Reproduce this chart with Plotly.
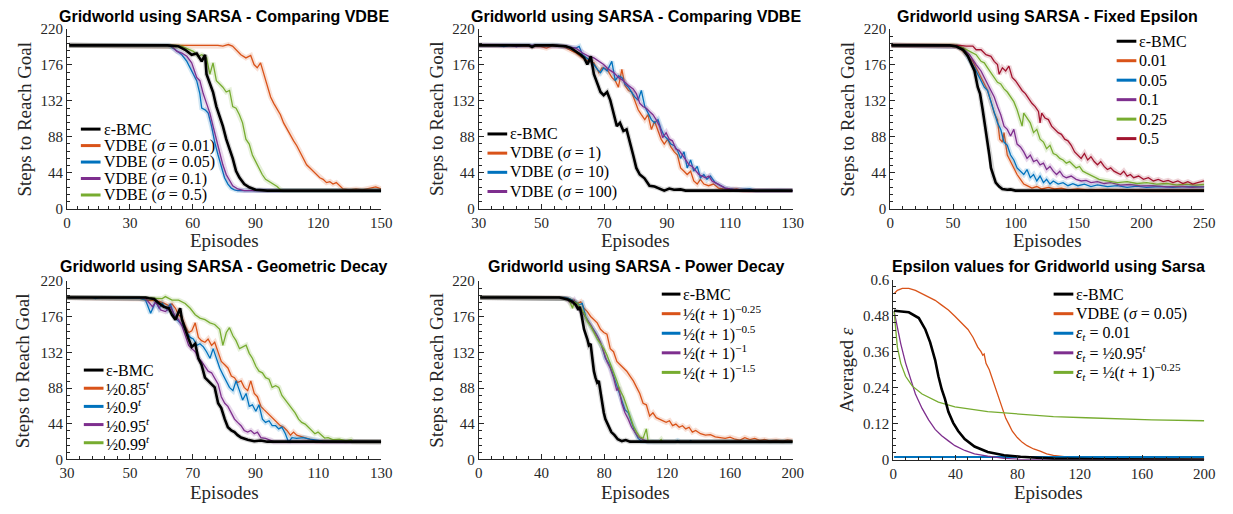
import plotly.graph_objects as go

# ---------------- DATA ----------------
# Panel 1: Comparing VDBE (episodes 0-150)
p1_bmc = [(1,200),(48,200),(53,199),(56.4,194.5),(59.5,188.5),(61.9,190),(64.3,180.4),(65.9,188.5),(66.6,164.6),(68.2,152.7),(69.7,142.8),(71.3,125),(72.9,113),(74.4,101),(76,85),(77.6,73),(79.1,61.5),(80.7,46),(82.3,38),(84.6,30),(87,26),(90,23),(95.6,22),(150,22)]
p1_s001 = [(1,200),(72,200),(74.4,199),(77,201),(79,199),(80.7,194.6),(83,188.5),(85.4,184.6),(87.7,187.6),(89.3,176.5),(90.8,172.5),(92.4,178.5),(94,164.6),(95.6,148.7),(97.2,136.8),(98.7,128.9),(100.3,121),(101.9,115),(103.4,105),(105,97),(106.6,89),(108.2,83),(109.7,77),(111.3,69.4),(112.9,61.5),(114.4,53.6),(116,49.6),(117.6,45.7),(119.2,41.7),(120.7,37.8),(122.3,35.8),(123.9,31.8),(125.5,33),(127,30),(128.6,31.8),(130.2,28),(131.8,24),(134.9,23),(138,24),(141,23),(144.3,25),(147.4,26.5),(150,24)]
p1_s005 = [(1,200),(48.6,200),(51.7,194.6),(54.8,188.5),(57.2,180.4),(59.5,168.6),(61.9,156.7),(63.4,140.9),(64.3,123),(65.9,121),(67.4,117),(69,101),(70.5,81.5),(72.1,65.6),(73.7,49.8),(75.2,37.8),(76.8,30),(78.4,25),(79.9,23),(81.5,22),(150,22)]
p1_s01 = [(1,200),(47.8,200),(50.1,198.6),(52.5,192.6),(54.8,190.6),(57.2,186.6),(59.5,178.6),(61.9,160.7),(63.4,156.7),(65,140.9),(66.6,128.9),(68.2,117),(69.7,101),(71.3,85),(72.9,69.4),(74.4,53.6),(76,41.7),(77.6,33.8),(79.1,28),(81.5,24),(84.6,22),(150,22)]
p1_s05 = [(1,200),(51.7,200),(54.8,198.6),(58,194.6),(60.3,192.6),(62.7,186.6),(64.3,188.5),(66.6,184.6),(68.2,164.6),(69.7,178.6),(71.3,156.7),(72.9,152.7),(74.4,148.7),(76,142.8),(77.6,144.7),(79.1,125),(80.7,123),(82.3,115),(83.8,105),(85.4,85),(87,79),(88.5,65.6),(90.1,57.6),(91.7,49.8),(93.2,41.7),(94.8,35.8),(96.4,33),(98.7,30),(100.3,27),(101.9,23),(103.4,22),(150,22)]

# Panel 2: Comparing VDBE (episodes 30-130)
p2_bmc = [(30,200),(46,200),(47,198),(48,200),(53.6,200),(57.8,199),(59.4,196.6),(61,192.6),(62.5,188.5),(63.6,184.6),(64.6,176.5),(65.1,180.4),(65.7,186.6),(66.7,164.6),(67.8,152.7),(68.8,142.8),(69.8,139),(70.9,142.8),(71.9,133),(73,117),(74,101),(75,105),(76.1,95),(77.1,97),(78.2,81.5),(79.2,65.6),(80.2,49.8),(81.3,41.7),(82.8,37),(84.4,28),(86,27),(87.5,25),(89.1,22),(90.7,24.5),(92.2,23),(94.3,23.5),(95.9,22),(130,22)]
p2_s1 = [(30,200),(40,200),(44,199),(49.5,198.6),(51.6,196.6),(53.6,199.5),(56.8,198.6),(58.9,194.6),(61,190.6),(63.1,184.6),(65.1,180.4),(66.7,178.6),(68.3,166.6),(69.3,172.5),(70.9,170.5),(72.4,160.7),(73.5,156.7),(74.5,148.7),(75.6,170.5),(76.6,150.7),(77.7,144.7),(78.7,142.8),(79.7,133),(80.8,121),(81.8,115),(82.9,109),(83.9,115),(85,97),(86,107),(87.1,95),(88.1,85),(89.1,79),(90.2,85),(91.2,75.5),(92.3,69.4),(93.3,65.6),(94.3,49.8),(95.4,45.8),(96.4,41.7),(97.5,45.8),(98.5,33.8),(99.6,30),(100.6,35.8),(101.7,30),(103.2,28),(104.8,30),(106.4,25),(108,24),(110,23),(112.1,24),(114.2,22),(130,22)]
p2_s10 = [(30,200),(36,200),(38,198.5),(40,200),(42,198.5),(44,200),(55,200),(58,198),(61,196.6),(62,198.6),(63.1,188.5),(65.1,182.5),(66.7,176.5),(67.8,170.5),(68.8,166.6),(69.8,172.5),(70.9,168.6),(72.4,180.4),(73.5,156.7),(74.5,162.6),(75.6,160.7),(76.6,152.7),(77.7,148.7),(78.7,142.8),(79.7,136.8),(80.8,133),(81.8,144.7),(82.9,125),(83.9,117),(85,109),(86,105),(87.1,109),(88.1,97),(89.1,89),(90.2,85),(91.2,79),(92.3,77),(93.3,71.4),(94.3,61.5),(95.4,69.4),(96.4,49.8),(97.5,59.5),(98.5,45.8),(99.6,51.6),(100.6,37.8),(101.7,41.7),(102.7,35.8),(103.8,39.8),(105.3,31.8),(106.9,28),(108.5,25),(110,24),(112,23),(116.3,24),(118.4,22),(126,22.5),(130,22)]
p2_s100 = [(30,200),(40,200),(42,198.6),(44,200),(55,200),(58,198.6),(61,196.6),(63.1,190.6),(65.1,186.6),(66.7,184.6),(68.3,180.4),(69.8,176.5),(71.4,170.5),(73,166.6),(74.5,160.7),(76.1,156.7),(77.7,150.7),(79.2,146.7),(80.2,140.8),(81.3,129),(82.3,125),(83.4,123),(84.4,119),(85.5,115),(86.5,109),(87.6,101),(88.6,87),(89.7,93),(90.7,85),(91.7,83),(92.8,73),(93.8,71.4),(94.9,65.6),(95.9,59.5),(97,53.6),(98,51.6),(99.1,45.8),(100.1,41.7),(101.2,39.8),(102.2,37.8),(103.3,39.8),(104.3,33.8),(105.3,31.8),(106.9,28),(108.5,25),(110,24),(112,23),(116.3,22),(130,22)]

# Panel 3: Fixed Epsilon (episodes 0-250)
p3_bmc = [(1,200),(47.5,200),(52.8,198.6),(58,194.6),(61.9,186.6),(64.5,178.6),(67.1,168.6),(69.7,148.7),(71.5,140.8),(73.6,121),(75.7,101),(77.5,81.5),(78.9,65.6),(80.2,49.8),(82,39.8),(84,31.8),(86.7,27),(89.3,24),(93.2,23),(95.8,23.5),(99.7,22),(250,22)]
p3_e001 = [(1,200),(50,200),(55.3,196.6),(60.6,188.5),(65.8,180.4),(69.7,168.6),(73.6,156.7),(77.5,144.7),(80.2,131),(82.8,117),(85.4,109),(87.2,85),(89.3,81.5),(90.6,93),(93.2,65.6),(95.8,57.6),(98.4,49.8),(101,41.7),(103.7,35.8),(106.3,30),(108.9,28),(112.8,25),(116.7,27),(120.6,24),(125.9,26),(131,24),(136.3,25),(141.5,23),(149.4,24),(157,23),(170,23.5),(183,23),(209,22.5),(250,23)]
p3_e005 = [(1,200),(52.8,199),(58,194.6),(63.2,182.5),(67.1,172.5),(71,160.7),(74.9,148.7),(77.5,144.7),(80.2,131),(82.8,119),(85.4,105),(88,97),(90.6,81.5),(93.2,77.5),(95.8,65.6),(98.4,59.5),(101,49.8),(103.7,45.8),(106.3,41.7),(108.9,47.8),(111.5,37.8),(114.1,41.7),(116.7,33.8),(119.3,39.8),(122,31.8),(124.5,35.8),(127.2,30),(129.8,33.8),(133.7,30),(137.6,31.8),(141.5,28),(145.4,30.5),(149.4,28),(154.6,30),(159.8,27),(165,29),(172.9,27),(180.7,28),(188.6,26),(196.4,27.5),(204,26),(214.7,27),(225,26),(235.6,27),(250,26.5)]
p3_e01 = [(1,200),(52.8,199),(58,196.6),(63.2,188.5),(68.4,176.5),(72.3,168.6),(76.2,156.7),(80.2,144.7),(82.8,136.8),(85.4,125),(88,115),(90.6,101),(93.2,97),(95.8,89),(98.4,97),(101,79),(103.7,75.5),(106.3,69.4),(108.9,61.5),(111.5,65.6),(114.1,57.6),(116.7,59.5),(119.3,53.6),(122,55.6),(124.5,47.8),(127.2,51.6),(129.8,45.8),(132.4,41.7),(135,45.8),(137.6,39.8),(140.2,37.8),(144.1,39.8),(148,35.8),(152,33.8),(155.9,34.5),(159.8,31.8),(165,33),(170.3,30.7),(175.5,31.8),(183.3,28.7),(191,29.5),(199,27.7),(209.5,28),(220,26.5),(230.3,27.3),(240.8,26),(250,27)]
p3_e025 = [(1,200),(52.8,200),(58,196.8),(63.2,192.6),(68.4,188.5),(72.3,180.4),(74.9,178.6),(77.5,172.5),(80.2,166.6),(82.8,160.7),(85.4,154.7),(88,152.7),(90.6,146.7),(93.2,142.8),(95.8,136.8),(98.4,131),(101,121),(103.7,109),(105,101),(106.3,117),(108.9,111),(111.5,105),(114.1,93),(116.7,97),(119.3,85),(122,81.5),(124.5,73.4),(127.2,77.5),(129.8,67.5),(132.4,65.6),(135,61.5),(137.6,59.5),(140.2,55.6),(142.8,57.6),(145.4,53.6),(148,49.8),(150.7,51.6),(153.3,45.8),(155.9,43.7),(158.5,41.7),(162.4,37.8),(166.3,35.8),(170.3,34.6),(175.5,33),(180.7,31.8),(188.6,33),(196.4,30.7),(204.2,31.8),(212,30),(219.9,30.7),(227.8,29),(235.6,30),(243.4,28.7),(250,29.5)]
p3_e05 = [(1,200),(55.3,200),(60.6,199),(65.8,199),(68.4,194.6),(72.3,194.6),(76.2,188.5),(80.2,186.6),(82.8,180.4),(85.4,176.5),(86.7,164.6),(89.3,172.5),(91.9,168.6),(94.5,174.5),(97.1,160.7),(99.7,156.7),(102.4,150.7),(105,144.7),(107.6,140.8),(110.2,134.8),(112.8,129),(115.4,125),(118,119),(119.3,105),(120.6,117),(123.2,111),(125.9,109),(128.5,101),(131.1,97),(133.7,93),(136.3,91),(138.9,85),(141.5,83),(144.1,77.5),(146.8,69.4),(149.4,65.6),(152,61.5),(154.6,67.5),(157.2,59.5),(159.8,63.5),(162.4,57.6),(165,53.6),(167.6,57.6),(170.3,51.6),(172.9,47.8),(175.5,49.8),(178.1,45.8),(180.7,43.7),(183.3,41.7),(185.9,45.8),(188.6,39.8),(191.2,41.7),(193.8,37.8),(197.7,39.8),(201.6,35.8),(205.5,37.8),(209.5,33.8),(213.4,35.8),(217.3,33),(221.2,34.6),(225.1,31.8),(229,33.8),(233,30.7),(236.9,33),(240.8,30),(244.7,31.8),(250,33.8)]

# Panel 4: Geometric Decay (episodes 30-130)
p4_bmc = [(30,200),(55,200),(56.1,199),(57.7,198),(59.3,192.6),(60.8,188.5),(62.4,186.6),(63.4,178.6),(64.5,172.5),(65.5,182.5),(66,186.6),(66.6,172.5),(67.6,160.7),(68.7,148.7),(69.7,139),(70.8,142.8),(71.8,125),(72.8,117),(73.9,101),(74.9,97),(76,93),(77,89),(78.1,69.4),(79.1,63.5),(80.2,49.8),(81.2,39.8),(82.3,35.8),(83.3,33.8),(84.3,30),(85.4,27),(87.5,24.5),(89.6,22.5),(91.7,23.5),(93.7,22),(130,22)]
p4_g085 = [(30,200),(53,199),(54,198),(56.1,196),(58.2,196),(60.3,194),(62.4,190),(63.4,192),(64.5,186.6),(65.5,178.6),(66.6,174.5),(67.6,164.6),(68.7,156.7),(69.7,158.7),(70.8,168.6),(71.8,150.7),(72.8,146.7),(73.9,144.7),(74.9,148.7),(76,140.8),(77,144.7),(78.1,133),(79.1,121),(80.2,117),(81.2,113),(82.3,103),(83.3,101),(84.3,95),(85.4,97),(86.4,89),(87.5,85),(88.5,97),(89.6,81.5),(90.6,77.5),(91.7,65.6),(92.7,61.5),(93.7,57.6),(94.8,53.6),(95.8,49.8),(96.9,45.8),(97.9,41.7),(99,39.8),(100,35.8),(101.1,30),(102.1,33.8),(103.1,30),(104.7,28),(106.3,26.5),(107.9,24.5),(109.4,22.5),(130,22)]
p4_g09 = [(30,200),(38,200),(39,198.5),(41,200),(53,199),(55,196.6),(56.6,180.4),(58.2,194.6),(59.3,186.6),(60.3,192.6),(61.9,184.6),(62.9,192),(64,178.6),(65,172.5),(66,168.6),(67,164.6),(68.1,156.7),(69.2,150.7),(70.2,148.7),(71.3,140.8),(72.3,142.8),(73.4,139),(74.4,133),(75.5,125),(76.5,136.8),(77.5,125),(78.6,113),(79.6,105),(80.7,97),(81.7,89),(82.8,85),(83.8,97),(84.9,85),(85.9,73.4),(87,81.5),(88,65.6),(89,67.5),(90.1,59.5),(91.1,67.5),(92.2,49.8),(93.2,45.8),(94.3,47.8),(95.3,41.7),(96.4,41.7),(97.4,37.8),(98.4,39.8),(99.5,31.8),(100.5,21.5),(101.6,27),(103.1,26),(105.2,27),(107.3,25),(109.4,24),(111.5,22.5),(130,22)]
p4_g095 = [(30,200),(53,200),(55,198.6),(57.2,188.5),(58.2,194.6),(59.8,184.6),(61.3,182.5),(62.9,188.5),(64.5,176.5),(65.5,172.5),(66.6,164.6),(67.6,152.7),(68.7,140.8),(69.7,136.8),(70.8,133),(71.8,125),(72.8,121),(73.9,115),(74.9,109),(76,107),(77,101),(78.1,93),(79.1,77.5),(80.2,69.4),(81.2,65.6),(82.3,57.6),(83.3,49.8),(84.3,45.8),(85.4,41.7),(86.4,35.8),(87.5,33.8),(88.5,35.8),(89.6,31.8),(90.6,33.8),(91.7,27),(93.2,26),(94.8,24),(95.8,22),(130,22)]
p4_g099 = [(30,200),(55,200),(58,199),(60.3,198.6),(61.3,201),(63.4,196.6),(65.5,196.6),(67.6,192.6),(69.2,186.6),(70.8,178.6),(72.3,174.5),(73.9,172.5),(75.5,168.6),(77,166.6),(78.6,160.7),(79.6,140.8),(80.7,156.7),(81.7,162.6),(82.8,152.7),(83.8,146.7),(84.9,136.8),(85.9,139),(87,141),(88,131),(89,125),(90.1,115),(91.1,109),(92.2,107),(93.2,101),(94.3,99),(95.3,89),(96.4,91),(97.4,89),(98.4,79),(99.5,73.4),(100.5,67.5),(101.6,61.5),(102.6,57.6),(103.7,49.8),(104.7,45.8),(105.8,43.7),(106.8,39.8),(107.9,35.8),(108.9,31.8),(109.9,33.8),(111,30),(112,26.5),(113.1,27),(114.6,24.5),(116.7,25),(118.8,23),(120.4,24.5),(121,22),(130,22)]

# Panel 5: Power Decay (episodes 0-200)
p5_bmc = [(1,200),(51.4,200),(53.5,199),(56.7,197.6),(59.8,194.6),(61.9,190.6),(63.6,184.6),(64.4,188.5),(65.7,176.5),(67.1,160.7),(69.2,148.7),(70.2,140.8),(71.3,142.8),(72.3,125),(73.4,109),(74.4,101),(75.5,95),(76.5,97),(77.6,81.5),(78.6,69.4),(79.7,57.6),(80.7,49.8),(82.4,41.7),(84.5,33.8),(86.5,30),(88.6,25),(91.2,22.7),(93.7,24),(96.4,22),(200,22)]
p5_p025 = [(1,200),(53.5,200),(56.7,199),(59.8,196.6),(62.9,192.6),(65,194.6),(67.1,186.6),(69.2,182.5),(71.3,176.5),(73.4,172.5),(75.5,168.6),(77.6,160.7),(79.7,156.7),(81.7,154.7),(83.8,136.8),(85.9,133),(88,121),(90.1,117),(92.2,113),(94.3,109),(96.4,103),(98.5,97),(100.6,89),(102.6,81.5),(104.7,69.4),(106.8,67.5),(108.9,53.6),(111,57.6),(113.1,51.6),(115.2,49.8),(117.3,47.8),(119.4,45.8),(121.5,47.8),(123.5,41.7),(125.6,43.7),(127.7,39.8),(129.8,41.7),(131.9,37.8),(134,39.8),(136.1,33.8),(138.2,35.8),(141.3,31.8),(144.4,30),(147.6,30.7),(150.7,28),(153.9,27),(157,26),(160.1,27.5),(163.3,25),(166.4,24),(169.5,27),(172.7,24.5),(175.8,26),(179,23.5),(182.1,24.7),(185.2,23),(189.4,24),(193.6,22.7),(196.7,24.3),(200,23)]
p5_p05 = [(1,200),(55,200),(57.7,198.6),(59.8,196.6),(61.9,194.6),(64,190.6),(66,192.6),(68.2,176.5),(70.2,168.6),(72.3,162.6),(74.4,156.7),(76.5,148.7),(78.6,139),(80.7,125),(82.8,119),(84.9,109),(87,97),(89.1,85),(91.2,73.4),(93.2,61.5),(95.3,57.6),(97.4,45.8),(99.5,33.8),(101.6,26),(103.7,22.7),(107.9,22),(125,22),(126.7,23.5),(128.5,22),(134,22),(135,23.5),(136,22),(200,22)]
p5_p1 = [(1,200),(51.4,200),(55.6,198.6),(58.8,192.6),(60.8,196.6),(62.9,188.5),(65,184.6),(67.1,178.6),(69.2,172.5),(71.3,166.6),(73.4,158.7),(75.5,152.7),(77.6,144.7),(79.7,131),(81.7,121),(83.8,113),(85.9,101),(88,85),(89.1,89),(91.2,69.4),(93.2,57.6),(95.3,49.8),(97.4,39.8),(99.5,33.8),(101.6,28),(104.7,24.5),(107.9,22),(200,22)]
p5_p15 = [(1,200),(51.4,200),(54.6,198.6),(57.7,196.6),(59.8,186.6),(60.8,194.6),(62.9,192.6),(65,186.6),(67.1,180.4),(69.2,170.5),(71.3,164.6),(73.4,156.7),(75.5,148.7),(77.6,142.8),(79.7,136.8),(81.7,129),(83.8,119),(85.9,109),(88,97),(90.1,85),(92.2,77.5),(94.3,65.6),(96.4,53.6),(98.5,41.7),(100.6,33.8),(102.6,28),(104.7,26),(106.8,37.8),(107.9,22.7),(112,22),(115,22),(116.2,24.5),(117,22),(200,22)]

# Panel 6: Epsilon values (episodes 0-200)
p6_bmc = [(0.6,0.496),(10.1,0.491),(16.5,0.472),(20.7,0.434),(23.8,0.391),(27,0.332),(29.1,0.278),(31.2,0.235),(33.3,0.203),(35.5,0.16),(38.6,0.123),(41.8,0.096),(46,0.069),(52.3,0.044),(60.8,0.026),(71.3,0.015),(81.9,0.01),(103,0.004),(134.6,0.002),(200,0.001)]
p6_vdbe = [(0.6,0.553),(2.7,0.564),(5.9,0.571),(10.1,0.571),(14.3,0.564),(18.6,0.553),(22.8,0.542),(27,0.531),(31.2,0.515),(35.5,0.499),(39.7,0.478),(43.9,0.456),(48.1,0.434),(51.3,0.408),(54.4,0.375),(56.5,0.36),(57.6,0.348),(58.5,0.352),(59.7,0.321),(61.8,0.3),(64,0.267),(66.1,0.235),(68.2,0.203),(70.3,0.171),(72.4,0.138),(74.5,0.117),(76.6,0.095),(79.8,0.074),(83,0.058),(86.1,0.047),(90.3,0.036),(94.5,0.029),(98.7,0.02),(103,0.015),(107.2,0.012),(111.4,0.01),(115.6,0.007),(124,0.003),(134.6,0.002),(200,0.001)]
p6_fixed = [(0.6,0.009),(200,0.009)]
p6_geo = [(0.6,0.495),(2.7,0.44),(4.9,0.386),(8,0.322),(11.2,0.268),(14.3,0.219),(18.6,0.171),(22.8,0.133),(27,0.101),(31.2,0.08),(35.5,0.063),(39.7,0.047),(46,0.031),(52.3,0.02),(60.8,0.012),(71.3,0.005),(81.9,0.0015),(103,0.0),(200,0.0)]
p6_pow = [(0.6,0.495),(1.7,0.418),(2.7,0.375),(4.9,0.321),(8,0.278),(12.2,0.246),(18.6,0.219),(29.1,0.192),(39.7,0.176),(60.8,0.16),(81.9,0.151),(103,0.144),(124,0.14),(145.2,0.136),(166.3,0.133),(200,0.13)]

# Tick values / labels
steps_ticks = [0, 44, 88, 132, 176, 220]
eps_ticks = [0, 0.12, 0.24, 0.36, 0.48, 0.6]
eps_ticklabels = ["0", "0.12", "0.24", "0.36", "0.48", "0.6"]
x1_ticks = [0, 30, 60, 90, 120, 150]
x2_ticks = [30, 50, 70, 90, 110, 130]
x3_ticks = [0, 50, 100, 150, 200, 250]
x5_ticks = [0, 40, 80, 120, 160, 200]

# ---------------- STYLE ----------------
W, H = 1233, 514
BLACK = "#000000"; ORANGE = "#D95319"; BLUE = "#0072BD"
PURPLE = "#7E2F8E"; GREEN = "#77AC30"; RED = "#A2142F"
AX = "#262626"
SERIF = "Liberation Serif"

def rgba(hexc, a):
    h = hexc.lstrip("#")
    return "rgba(%d,%d,%d,%.2f)" % (int(h[0:2], 16), int(h[2:4], 16), int(h[4:6], 16), a)

panels = [
    dict(xpx=(60, 379), ypx=(21.7, 207), xr=[0, 150], xt=x1_ticks, xm=5,
         yr=[0, 220], yt=steps_ticks, ytl=None, ym=8.8,
         title="Gridworld using SARSA - Comparing VDBE", ylabel="Steps to Reach Goal",
         ylx=17, leg=dict(s0=74, s1=94, tx=95, y0=125, dy=17), band=True,
         series=[(p1_bmc, "ε-BMC", BLACK, 2.6), (p1_s001, "VDBE (<i>σ</i> = 0.01)", ORANGE, 1.3),
                 (p1_s005, "VDBE (<i>σ</i> = 0.05)", BLUE, 1.3), (p1_s01, "VDBE (<i>σ</i> = 0.1)", PURPLE, 1.3),
                 (p1_s05, "VDBE (<i>σ</i> = 0.5)", GREEN, 1.3)]),
    dict(xpx=(478, 797), ypx=(21.7, 207), xr=[30, 130], xt=x2_ticks, xm=4,
         yr=[0, 220], yt=steps_ticks, ytl=None, ym=8.8,
         title="Gridworld using SARSA - Comparing VDBE", ylabel="Steps to Reach Goal",
         ylx=435, leg=dict(s0=487, s1=507, tx=508, y0=130, dy=19.8), band=True,
         series=[(p2_bmc, "ε-BMC", BLACK, 2.6), (p2_s1, "VDBE (<i>σ</i> = 1)", ORANGE, 1.3),
                 (p2_s10, "VDBE (<i>σ</i> = 10)", BLUE, 1.3), (p2_s100, "VDBE (<i>σ</i> = 100)", PURPLE, 1.3)]),
    dict(xpx=(896, 1215), ypx=(21.7, 207), xr=[0, 250], xt=x3_ticks, xm=10,
         yr=[0, 220], yt=steps_ticks, ytl=None, ym=8.8,
         title="Gridworld using SARSA - Fixed Epsilon", ylabel="Steps to Reach Goal",
         ylx=853, leg=dict(s0=1126, s1=1146, tx=1147, y0=34.3, dy=20.1), band=True,
         series=[(p3_bmc, "ε-BMC", BLACK, 2.6), (p3_e001, "0.01", ORANGE, 1.3), (p3_e005, "0.05", BLUE, 1.3),
                 (p3_e01, "0.1", PURPLE, 1.3), (p3_e025, "0.25", GREEN, 1.3), (p3_e05, "0.5", RED, 1.3)]),
    dict(xpx=(60, 379), ypx=(282, 466), xr=[30, 130], xt=x2_ticks, xm=4,
         yr=[0, 220], yt=steps_ticks, ytl=None, ym=8.8,
         title="Gridworld using SARSA - Geometric Decay", ylabel="Steps to Reach Goal",
         ylx=15, leg=dict(s0=77, s1=97, tx=98, y0=373.7, dy=18.75), band=True,
         series=[(p4_bmc, "ε-BMC", BLACK, 2.6), (p4_g085, "½0.85<sup><i>t</i></sup>", ORANGE, 1.3),
                 (p4_g09, "½0.9<sup><i>t</i></sup>", BLUE, 1.3), (p4_g095, "½0.95<sup><i>t</i></sup>", PURPLE, 1.3),
                 (p4_g099, "½0.99<sup><i>t</i></sup>", GREEN, 1.3)]),
    dict(xpx=(478, 797), ypx=(282, 466), xr=[0, 200], xt=x5_ticks, xm=8,
         yr=[0, 220], yt=steps_ticks, ytl=None, ym=8.8,
         title="Gridworld using SARSA - Power Decay", ylabel="Steps to Reach Goal",
         ylx=435, leg=dict(s0=664, s1=683, tx=684, y0=295.3, dy=20.2), band=True,
         series=[(p5_bmc, "ε-BMC", BLACK, 2.6), (p5_p025, "½(<i>t</i> + 1)<sup>−0.25</sup>", ORANGE, 1.3),
                 (p5_p05, "½(<i>t</i> + 1)<sup>−0.5</sup>", BLUE, 1.3), (p5_p1, "½(<i>t</i> + 1)<sup>−1</sup>", PURPLE, 1.3),
                 (p5_p15, "½(<i>t</i> + 1)<sup>−1.5</sup>", GREEN, 1.3)]),
    dict(xpx=(899, 1215), ypx=(280.3, 466.3), xr=[0, 200], xt=x5_ticks, xm=8,
         yr=[0, 0.6], yt=eps_ticks, ytl=eps_ticklabels, ym=0.024,
         title="Epsilon values for Gridworld using Sarsa", ylabel="Averaged <i>ε</i>",
         ylx=852, leg=dict(s0=1062, s1=1082, tx=1083, y0=295.3, dy=20.2), band=False,
         series=[(p6_bmc, "ε-BMC", BLACK, 2.6), (p6_vdbe, "VDBE (<i>σ</i> = 0.05)", ORANGE, 1.3),
                 (p6_fixed, "<i>ε<sub>t</sub></i> = 0.01", BLUE, 2.0),
                 (p6_geo, "<i>ε<sub>t</sub></i> = ½0.95<sup><i>t</i></sup>", PURPLE, 1.3),
                 (p6_pow, "<i>ε<sub>t</sub></i> = ½(<i>t</i> + 1)<sup>−0.25</sup>", GREEN, 1.3)]),
]

fig = go.Figure()
annotations = []
shapes = []
layout = dict(width=W, height=H, margin=dict(l=0, r=0, t=0, b=0),
              paper_bgcolor="white", plot_bgcolor="white", showlegend=False)

for i, p in enumerate(panels, start=1):
    xa = "x" if i == 1 else "x%d" % i
    ya = "y" if i == 1 else "y%d" % i
    # coloured series first, black last (on top)
    order = list(range(1, len(p["series"]))) + [0]
    for k in order:
        data, name, col, w = p["series"][k]
        xs = [d[0] for d in data]
        ys = [d[1] for d in data]
        if p["band"]:
            fig.add_trace(go.Scatter(x=xs, y=ys, mode="lines", xaxis=xa, yaxis=ya,
                                     line=dict(color=rgba(col, 0.18 if col != BLACK else 0.16), width=5),
                                     showlegend=False, hoverinfo="skip"))
        fig.add_trace(go.Scatter(x=xs, y=ys, mode="lines", name=name, xaxis=xa, yaxis=ya,
                                 line=dict(color=col, width=w), showlegend=False))
    x0, x1 = p["xpx"]
    yt, yb = p["ypx"]
    axis_common = dict(showgrid=False, zeroline=False, showline=True, linecolor=AX, linewidth=1,
                       ticks="inside", ticklen=5, tickwidth=1, tickcolor=AX,
                       tickfont=dict(family=SERIF, size=15, color=AX))
    layout["xaxis" if i == 1 else "xaxis%d" % i] = dict(
        domain=[x0 / W, x1 / W], range=p["xr"], anchor=ya, tickvals=p["xt"],
        minor=dict(dtick=p["xm"], tick0=p["xr"][0], ticks="inside", ticklen=3, tickcolor=AX, showgrid=False),
        **axis_common)
    ydict = dict(domain=[1 - yb / H, 1 - yt / H], range=p["yr"], anchor=xa, tickvals=p["yt"],
                 minor=dict(dtick=p["ym"], tick0=0, ticks="inside", ticklen=3, tickcolor=AX, showgrid=False),
                 **axis_common)
    if p["ytl"] is not None:
        ydict["ticktext"] = p["ytl"]
    layout["yaxis" if i == 1 else "yaxis%d" % i] = ydict

    # legend (samples + labels) placed in paper space
    L = p["leg"]
    for k, (data, name, col, w) in enumerate(p["series"]):
        yy = 1 - (L["y0"] + k * L["dy"]) / H
        shapes.append(dict(type="line", xref="paper", yref="paper",
                           x0=L["s0"] / W, x1=L["s1"] / W, y0=yy, y1=yy,
                           line=dict(color=col, width=3)))
        annotations.append(dict(text=name, x=L["tx"] / W, y=yy, xref="paper", yref="paper",
                                showarrow=False, xanchor="left", yanchor="middle",
                                font=dict(family=SERIF, size=16, color="black")))

    cx = (x0 + x1) / 2
    top_row = yt < 100
    annotations.append(dict(
        text="<b>%s</b>" % p["title"], x=cx / W, y=1 - (9 if top_row else 267) / H,
        xref="paper", yref="paper", showarrow=False, xanchor="center", yanchor="middle",
        font=dict(family="Liberation Sans", size=16, color="black")))
    annotations.append(dict(
        text="Episodes", x=cx / W, y=1 - (240 if top_row else 500) / H,
        xref="paper", yref="paper", showarrow=False, xanchor="center", yanchor="middle",
        font=dict(family=SERIF, size=19, color=AX)))
    annotations.append(dict(
        text=p["ylabel"], x=p["ylx"] / W, y=1 - ((yt + yb) / 2) / H, textangle=-90,
        xref="paper", yref="paper", showarrow=False, xanchor="center", yanchor="middle",
        font=dict(family=SERIF, size=19, color=AX)))

layout["annotations"] = annotations
layout["shapes"] = shapes
fig.update_layout(**layout)
fig.write_html("out.html")
